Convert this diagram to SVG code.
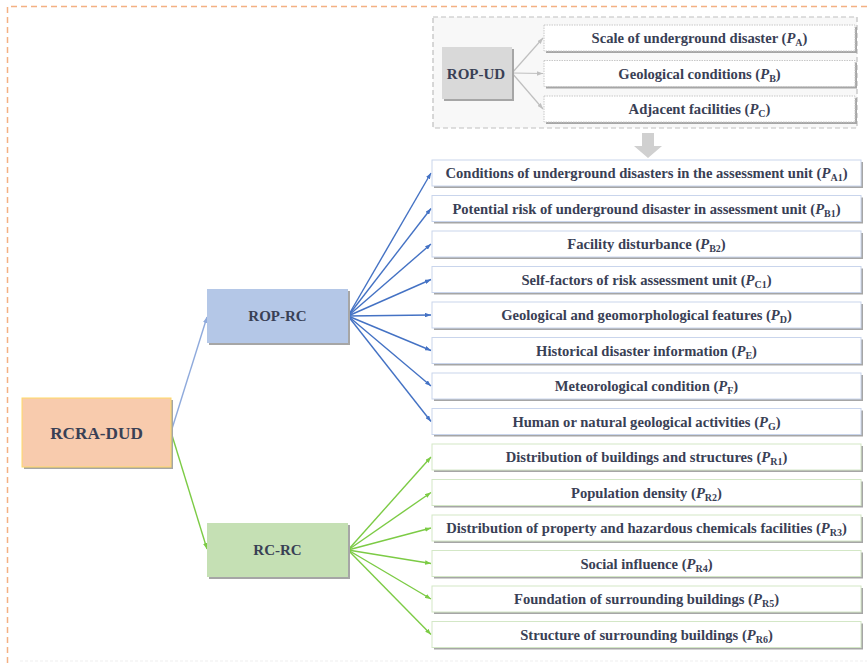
<svg xmlns="http://www.w3.org/2000/svg" width="867" height="665" viewBox="0 0 867 665">
<style>
.t{font-family:"Liberation Serif","Times New Roman",serif;font-weight:bold;font-size:14.6px;fill:#394055;text-anchor:middle}
.h{font-family:"Liberation Serif","Times New Roman",serif;font-weight:bold;fill:#394055;text-anchor:middle}
.i{font-style:italic}
.s{font-size:10px}
.sh{fill:#a6a6a6}
.bx{fill:#ffffff;stroke-width:1}
.ud{stroke:#c8c8c8;stroke-dasharray:1.5 1}
.bl{stroke:#c9d5ec}
.gr{stroke:#d3e7c6}
.cb{stroke:#4472c4;stroke-width:1.4;fill:none;marker-end:url(#mb)}
.cg{stroke:#7ccb45;stroke-width:1.4;fill:none;marker-end:url(#mg)}
.cy{stroke:#bfbfbf;stroke-width:1.2;fill:none;marker-end:url(#my)}
</style>
<defs>
<marker id="mb" viewBox="0 0 8 6" refX="8" refY="3" markerWidth="6" markerHeight="4.5" markerUnits="userSpaceOnUse" orient="auto"><path d="M0,0 L8,3 L0,6 z" fill="#4472c4"/></marker>
<marker id="ml" viewBox="0 0 8 6" refX="8" refY="3" markerWidth="6" markerHeight="4.5" markerUnits="userSpaceOnUse" orient="auto"><path d="M0,0 L8,3 L0,6 z" fill="#8faadc"/></marker>
<marker id="mg" viewBox="0 0 8 6" refX="8" refY="3" markerWidth="6" markerHeight="4.5" markerUnits="userSpaceOnUse" orient="auto"><path d="M0,0 L8,3 L0,6 z" fill="#7ccb45"/></marker>
<marker id="my" viewBox="0 0 8 6" refX="8" refY="3" markerWidth="6" markerHeight="4.5" markerUnits="userSpaceOnUse" orient="auto"><path d="M0,0 L8,3 L0,6 z" fill="#bfbfbf"/></marker>
</defs>
<rect width="867" height="665" fill="#ffffff"/>
<path d="M7.5,663 V6.5 H867" fill="none" stroke="#f4b183" stroke-width="1.5" stroke-dasharray="6 4"/>
<line x1="20" y1="661" x2="867" y2="661" stroke="#efefef" stroke-width="1" stroke-dasharray="3 2"/>

<g id="rop-ud-container">
<rect x="433" y="17" width="424" height="111" fill="#f8f8f8" stroke="#bfbfbf" stroke-width="1.2" stroke-dasharray="5 3"/>
</g>
<g id="down-arrow">
<path d="M642,133 H654 V146 H662 L648,158 L634,146 H642 Z" fill="#d0d0d0"/>
</g>

<g id="connectors">
<line class="cy" x1="512" y1="73" x2="543" y2="38"/>
<line class="cy" x1="512" y1="73" x2="543" y2="73.5"/>
<line class="cy" x1="512" y1="73" x2="543" y2="109"/>
<line x1="171" y1="432" x2="207" y2="317" stroke="#8faadc" stroke-width="1.4" marker-end="url(#ml)"/>
<line class="cg" x1="171" y1="432" x2="207" y2="549"/>
<line class="cb" x1="348" y1="316" x2="431" y2="173"/>
<line class="cb" x1="348" y1="316" x2="431" y2="208.5"/>
<line class="cb" x1="348" y1="316" x2="431" y2="244"/>
<line class="cb" x1="348" y1="316" x2="431" y2="279.5"/>
<line class="cb" x1="348" y1="316" x2="431" y2="315"/>
<line class="cb" x1="348" y1="316" x2="431" y2="350.5"/>
<line class="cb" x1="348" y1="316" x2="431" y2="386"/>
<line class="cb" x1="348" y1="316" x2="431" y2="421.5"/>
<line class="cg" x1="348" y1="550" x2="431" y2="457"/>
<line class="cg" x1="348" y1="550" x2="431" y2="492.5"/>
<line class="cg" x1="348" y1="550" x2="431" y2="528"/>
<line class="cg" x1="348" y1="550" x2="431" y2="563.5"/>
<line class="cg" x1="348" y1="550" x2="431" y2="599"/>
<line class="cg" x1="348" y1="550" x2="431" y2="634.5"/>
</g>

<g id="rop-ud">
<rect class="sh" x="444" y="49" width="70" height="52"/>
<rect x="442" y="47" width="70" height="52" fill="#d9d9d9"/>
<text class="h" x="476" y="78.5" font-size="15">ROP-UD</text>
</g>
<g id="pa">
<rect class="sh" x="546" y="27" width="311" height="26"/>
<rect class="bx ud" x="544" y="25" width="311" height="26"/>
<text class="t" x="699.5" y="43">Scale of underground disaster (<tspan class="i">P</tspan><tspan class="s" dy="3">A</tspan><tspan dy="-3">)</tspan></text>
</g>
<g id="pb">
<rect class="sh" x="546" y="62.5" width="311" height="26"/>
<rect class="bx ud" x="544" y="60.5" width="311" height="26"/>
<text class="t" x="699.5" y="78.5">Geological conditions (<tspan class="i">P</tspan><tspan class="s" dy="3">B</tspan><tspan dy="-3">)</tspan></text>
</g>
<g id="pc">
<rect class="sh" x="546" y="98" width="311" height="26"/>
<rect class="bx ud" x="544" y="96" width="311" height="26"/>
<text class="t" x="699.5" y="114">Adjacent facilities (<tspan class="i">P</tspan><tspan class="s" dy="3">C</tspan><tspan dy="-3">)</tspan></text>
</g>

<g id="rcra-dud">
<rect class="sh" x="24" y="400" width="149" height="69"/>
<rect x="22" y="398" width="149" height="69" fill="#f8cbad" stroke="#ffd966" stroke-width="1"/>
<text class="h" x="96.5" y="439" font-size="17.2">RCRA-DUD</text>
</g>
<g id="rop-rc">
<rect class="sh" x="209" y="291" width="141" height="54"/>
<rect x="207" y="289" width="141" height="54" fill="#b4c7e7"/>
<text class="h" x="277.5" y="321" font-size="15">ROP-RC</text>
</g>
<g id="rc-rc">
<rect class="sh" x="209" y="525" width="141" height="54"/>
<rect x="207" y="523" width="141" height="54" fill="#c5e0b4"/>
<text class="h" x="277.5" y="555" font-size="15">RC-RC</text>
</g>

<g id="pa1">
<rect class="sh" x="434" y="162" width="429" height="26"/>
<rect class="bx bl" x="432" y="160" width="429" height="26"/>
<text class="t" x="646.5" y="178">Conditions of underground disasters in the assessment unit (<tspan class="i">P</tspan><tspan class="s" dy="3">A1</tspan><tspan dy="-3">)</tspan></text>
</g>
<g id="pb1">
<rect class="sh" x="434" y="197.5" width="429" height="26"/>
<rect class="bx bl" x="432" y="195.5" width="429" height="26"/>
<text class="t" x="646.5" y="213.5">Potential risk of underground disaster in assessment unit (<tspan class="i">P</tspan><tspan class="s" dy="3">B1</tspan><tspan dy="-3">)</tspan></text>
</g>
<g id="pb2">
<rect class="sh" x="434" y="233" width="429" height="26"/>
<rect class="bx bl" x="432" y="231" width="429" height="26"/>
<text class="t" x="646.5" y="249">Facility disturbance (<tspan class="i">P</tspan><tspan class="s" dy="3">B2</tspan><tspan dy="-3">)</tspan></text>
</g>
<g id="pc1">
<rect class="sh" x="434" y="268.5" width="429" height="26"/>
<rect class="bx bl" x="432" y="266.5" width="429" height="26"/>
<text class="t" x="646.5" y="284.5">Self-factors of risk assessment unit (<tspan class="i">P</tspan><tspan class="s" dy="3">C1</tspan><tspan dy="-3">)</tspan></text>
</g>
<g id="pd">
<rect class="sh" x="434" y="304" width="429" height="26"/>
<rect class="bx bl" x="432" y="302" width="429" height="26"/>
<text class="t" x="646.5" y="320">Geological and geomorphological features (<tspan class="i">P</tspan><tspan class="s" dy="3">D</tspan><tspan dy="-3">)</tspan></text>
</g>
<g id="pe">
<rect class="sh" x="434" y="339.5" width="429" height="26"/>
<rect class="bx bl" x="432" y="337.5" width="429" height="26"/>
<text class="t" x="646.5" y="355.5">Historical disaster information (<tspan class="i">P</tspan><tspan class="s" dy="3">E</tspan><tspan dy="-3">)</tspan></text>
</g>
<g id="pf">
<rect class="sh" x="434" y="375" width="429" height="26"/>
<rect class="bx bl" x="432" y="373" width="429" height="26"/>
<text class="t" x="646.5" y="391">Meteorological condition (<tspan class="i">P</tspan><tspan class="s" dy="3">F</tspan><tspan dy="-3">)</tspan></text>
</g>
<g id="pg">
<rect class="sh" x="434" y="410.5" width="429" height="26"/>
<rect class="bx bl" x="432" y="408.5" width="429" height="26"/>
<text class="t" x="646.5" y="426.5">Human or natural geological activities (<tspan class="i">P</tspan><tspan class="s" dy="3">G</tspan><tspan dy="-3">)</tspan></text>
</g>
<g id="pr1">
<rect class="sh" x="434" y="446" width="429" height="26"/>
<rect class="bx gr" x="432" y="444" width="429" height="26"/>
<text class="t" x="646.5" y="462">Distribution of buildings and structures (<tspan class="i">P</tspan><tspan class="s" dy="3">R1</tspan><tspan dy="-3">)</tspan></text>
</g>
<g id="pr2">
<rect class="sh" x="434" y="481.5" width="429" height="26"/>
<rect class="bx gr" x="432" y="479.5" width="429" height="26"/>
<text class="t" x="646.5" y="497.5">Population density (<tspan class="i">P</tspan><tspan class="s" dy="3">R2</tspan><tspan dy="-3">)</tspan></text>
</g>
<g id="pr3">
<rect class="sh" x="434" y="517" width="429" height="26"/>
<rect class="bx gr" x="432" y="515" width="429" height="26"/>
<text class="t" x="646.5" y="533">Distribution of property and hazardous chemicals facilities (<tspan class="i">P</tspan><tspan class="s" dy="3">R3</tspan><tspan dy="-3">)</tspan></text>
</g>
<g id="pr4">
<rect class="sh" x="434" y="552.5" width="429" height="26"/>
<rect class="bx gr" x="432" y="550.5" width="429" height="26"/>
<text class="t" x="646.5" y="568.5">Social influence (<tspan class="i">P</tspan><tspan class="s" dy="3">R4</tspan><tspan dy="-3">)</tspan></text>
</g>
<g id="pr5">
<rect class="sh" x="434" y="588" width="429" height="26"/>
<rect class="bx gr" x="432" y="586" width="429" height="26"/>
<text class="t" x="646.5" y="604">Foundation of surrounding buildings (<tspan class="i">P</tspan><tspan class="s" dy="3">R5</tspan><tspan dy="-3">)</tspan></text>
</g>
<g id="pr6">
<rect class="sh" x="434" y="623.5" width="429" height="26"/>
<rect class="bx gr" x="432" y="621.5" width="429" height="26"/>
<text class="t" x="646.5" y="639.5">Structure of surrounding buildings (<tspan class="i">P</tspan><tspan class="s" dy="3">R6</tspan><tspan dy="-3">)</tspan></text>
</g>
</svg>
